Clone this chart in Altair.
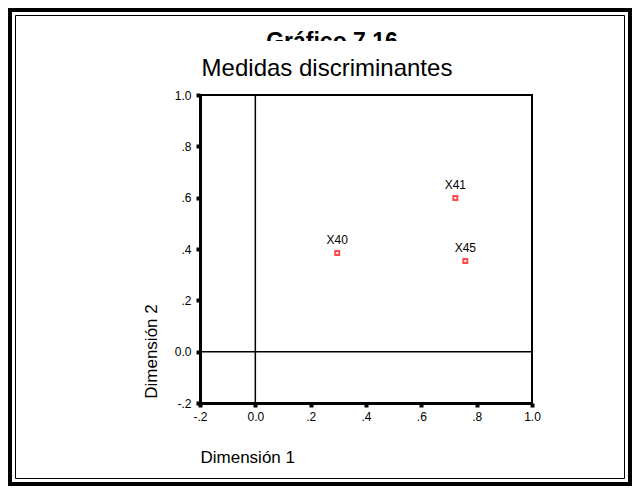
import altair as alt
import pandas as pd

labels = ["X40", "X41", "X45"]
dim1 = [0.296, 0.723, 0.759]
dim2 = [0.384, 0.599, 0.353]
ticks = [-0.2, 0.0, 0.2, 0.4, 0.6, 0.8, 1.0]

df = pd.DataFrame({"label": labels, "d1": dim1, "d2": dim2})
FONT = "Liberation Sans"
label_expr = ("datum.value == 0 ? '0.0' : (datum.value == 1 ? '1.0' : "
              "(datum.value < 0 ? '-' + replace(format(-datum.value, '.1f'), '0.', '.') : "
              "replace(format(datum.value, '.1f'), '0.', '.')))")

W, H = 332, 308
PL, PT = 192, 87

xs = alt.Scale(domain=[-0.2, 1.0], nice=False, zero=False)
ys = alt.Scale(domain=[-0.2, 1.0], nice=False, zero=False)

x_axis = alt.Axis(values=ticks, labelExpr=label_expr, grid=False, title="Dimensión 1",
                  domainWidth=3, domainColor="black", tickColor="black", tickSize=4, tickWidth=4,
                  labelFont=FONT, labelFontSize=12, labelColor="black", labelPadding=4,
                  titleFont=FONT, titleFontSize=17, titleFontWeight="normal", titleColor="black",
                  titleX=0, titleY=54, titleAlign="left", titleBaseline="middle", labelFlush=False)
y_axis = alt.Axis(values=ticks, labelExpr=label_expr, grid=False, title="Dimensión 2",
                  domainWidth=3, domainColor="black", tickColor="black", tickSize=4, tickWidth=4,
                  labelFont=FONT, labelFontSize=12, labelColor="black", labelPadding=5,
                  titleFont=FONT, titleFontSize=17, titleFontWeight="normal", titleColor="black",
                  titleX=-49, titleY=256, titleAlign="center", titleBaseline="middle", titleAngle=-90,
                  labelFlush=False)

base = alt.Chart(df)

pts = base.mark_square(filled=False, color="red", strokeWidth=2, size=16).encode(
    x=alt.X("d1:Q", scale=xs, axis=x_axis),
    y=alt.Y("d2:Q", scale=ys, axis=y_axis),
)
txt = base.mark_text(font=FONT, fontSize=12, color="black", dy=-13).encode(
    x=alt.X("d1:Q", scale=xs), y=alt.Y("d2:Q", scale=ys), text="label:N"
)

ref = pd.DataFrame({"z": [0.0]})
vrule = alt.Chart(ref).mark_rule(color="black", strokeWidth=1.5).encode(x=alt.X("z:Q", scale=xs))
hrule = alt.Chart(ref).mark_rule(color="black", strokeWidth=1.5).encode(y=alt.Y("z:Q", scale=ys))

# clipped main title
title_txt = alt.Chart(pd.DataFrame({"t": ["Gráfico 7.16"]})).mark_text(
    font=FONT, fontSize=23, fontWeight="bold", color="black", align="center", baseline="alphabetic"
).encode(x=alt.value(332 - 200), y=alt.value(49 - 95), text="t:N")
cover = alt.Chart(pd.DataFrame({"a": [0]})).mark_rect(color="white").encode(
    x=alt.value(230 - 200), x2=alt.value(430 - 200), y=alt.value(41 - 95), y2=alt.value(53 - 95)
)
subtitle = alt.Chart(pd.DataFrame({"t": ["Medidas discriminantes"]})).mark_text(
    font=FONT, fontSize=24, color="black", align="center", baseline="alphabetic"
).encode(x=alt.value(327 - 200), y=alt.value(76 - 95), text="t:N")

# frames
outer = alt.Chart(pd.DataFrame({"a": [0]})).mark_rect(fill=None, stroke="black", strokeWidth=4).encode(
    x=alt.value(10 - 200), x2=alt.value(630 - 200), y=alt.value(10 - 95), y2=alt.value(484 - 95)
)
inner = alt.Chart(pd.DataFrame({"a": [0]})).mark_rect(fill=None, stroke="black", strokeWidth=1).encode(
    x=alt.value(15.5 - 200), x2=alt.value(624.5 - 200), y=alt.value(15.5 - 95), y2=alt.value(478.5 - 95)
)

chart = alt.layer(outer, inner, title_txt, cover, subtitle, vrule, hrule, pts, txt).properties(
    width=W, height=H,
    autosize=alt.AutoSizeParams(type="none"),
    padding={"left": PL, "top": PT, "right": 624 - PL - W, "bottom": 478 - PT - H},
    background="white",
).configure_view(stroke="black", strokeWidth=2)

chart.save("out.html", embed_options={"renderer": "svg", "actions": False})
